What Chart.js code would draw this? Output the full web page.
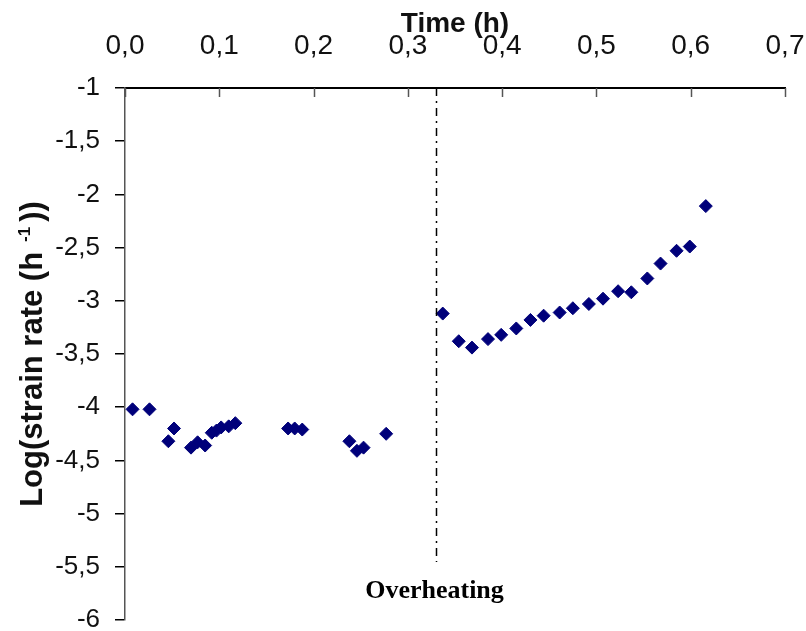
<!DOCTYPE html>
<html>
<head>
<meta charset="utf-8">
<title>Log strain rate vs time</title>
<script src="https://cdn.jsdelivr.net/npm/chart.js@4.4.1/dist/chart.umd.min.js"></script>
<style>
  html, body { margin: 0; padding: 0; background: #fff; }
  #wrap { width: 806px; height: 631px; position: relative; }
</style>
</head>
<body>
<div id="wrap"><canvas id="strainChart"></canvas></div>
<script>
// time (h) and log10 of the strain rate (1/h)
const times = [
  0.008, 0.026, 0.046, 0.052, 0.070, 0.077, 0.085, 0.092, 0.097, 0.102,
  0.110, 0.117, 0.173, 0.180, 0.188, 0.238, 0.246, 0.253, 0.277,
  0.337, 0.354, 0.368, 0.385, 0.399, 0.415, 0.430, 0.444, 0.461, 0.475,
  0.492, 0.507, 0.523, 0.537, 0.554, 0.568, 0.585, 0.599, 0.616
];
const logRates = [
  -4.02, -4.02, -4.32, -4.20, -4.38, -4.33, -4.36, -4.24, -4.22, -4.19,
  -4.18, -4.15, -4.20, -4.20, -4.21, -4.32, -4.41, -4.38, -4.25,
  -3.12, -3.38, -3.44, -3.36, -3.32, -3.26, -3.18, -3.14, -3.11, -3.07,
  -3.03, -2.98, -2.91, -2.92, -2.79, -2.65, -2.53, -2.49, -2.11
];
const overheatTime = 0.33;
const overheatLabel = "Overheating";

const sans = "'Liberation Sans', Arial, sans-serif";
const comma = (v) => v.toFixed(1).replace(".", ",");

// small tick marks pointing down from the top axis
const innerTicks = {
  id: "innerTicks",
  afterDraw(chart) {
    const { ctx, scales: { x }, chartArea } = chart;
    ctx.save();
    ctx.strokeStyle = "#555";
    ctx.lineWidth = 1.5;
    x.ticks.forEach((t) => {
      const px = Math.round(x.getPixelForValue(t.value)) + 0.5;
      ctx.beginPath();
      ctx.moveTo(px, chartArea.top);
      ctx.lineTo(px, chartArea.top + 9);
      ctx.stroke();
    });
    ctx.restore();
  }
};

// dash-dot marker line and its label
const overheatMarker = {
  id: "overheatMarker",
  afterDraw(chart) {
    const { ctx, scales: { x }, chartArea } = chart;
    const px = Math.round(x.getPixelForValue(overheatTime)) + 0.5;
    ctx.save();
    ctx.strokeStyle = "#000";
    ctx.lineWidth = 1.5;
    ctx.setLineDash([8, 5, 2, 5]);
    ctx.beginPath();
    ctx.moveTo(px, chartArea.top);
    ctx.lineTo(px, chartArea.bottom - 58);
    ctx.stroke();
    ctx.setLineDash([]);
    ctx.fillStyle = "#000";
    ctx.font = "bold 26px 'Liberation Serif', 'Times New Roman', serif";
    ctx.textAlign = "center";
    ctx.textBaseline = "alphabetic";
    ctx.fillText(overheatLabel, px - 2, chartArea.bottom - 22);
    ctx.restore();
  }
};

// rotated y title with a superscript exponent
const yTitle = {
  id: "yTitle",
  afterDraw(chart) {
    const { ctx, chartArea } = chart;
    const big = "bold 31px " + sans;
    const small = "bold 17px " + sans;
    const head = "Log(strain rate (h";
    const sup = "-1";
    const tail = "))";
    ctx.save();
    ctx.font = big;
    const wHead = ctx.measureText(head).width;
    const wTail = ctx.measureText(tail).width;
    ctx.font = small;
    const wSup = ctx.measureText(sup).width;
    const gap1 = 10, gap2 = 5;
    const total = wHead + gap1 + wSup + gap2 + wTail;
    ctx.translate(42, (chartArea.top + chartArea.bottom) / 2);
    ctx.rotate(-Math.PI / 2);
    ctx.fillStyle = "#111";
    ctx.textBaseline = "alphabetic";
    ctx.textAlign = "left";
    let cx = -total / 2;
    ctx.font = big;
    ctx.fillText(head, cx, 0);
    cx += wHead + gap1;
    ctx.font = small;
    ctx.fillText(sup, cx, -12);
    cx += wSup + gap2;
    ctx.font = big;
    ctx.fillText(tail, cx, 0);
    ctx.restore();
  }
};

new Chart(document.getElementById("strainChart"), {
  type: "scatter",
  data: {
    datasets: [{
      data: times.map((t, i) => ({ x: t, y: logRates[i] })),
      pointStyle: "rectRot",
      pointRadius: 6.5,
      pointHoverRadius: 6.5,
      backgroundColor: "#00007a",
      borderColor: "#00007a",
      borderWidth: 1
    }]
  },
  options: {
    responsive: true,
    maintainAspectRatio: false,
    animation: false,
    layout: { padding: 0 },
    plugins: { legend: { display: false }, tooltip: { enabled: false } },
    scales: {
      x: {
        type: "linear",
        position: "top",
        min: 0,
        max: 0.7,
        afterFit(scale) {
          scale.height = 88;
          scale.paddingLeft = 0;
          scale.paddingRight = 21;
        },
        border: { display: true, color: "#000", width: 2 },
        grid: { drawOnChartArea: false, drawTicks: false },
        ticks: {
          stepSize: 0.1,
          padding: 25,
          maxRotation: 0,
          autoSkip: false,
          color: "#111",
          font: { family: sans, size: 28 },
          callback: (v) => comma(v)
        },
        title: {
          display: true,
          text: "Time (h)",
          color: "#111",
          font: { family: sans, size: 28, weight: "bold" },
          padding: { top: 7, bottom: 0 }
        }
      },
      y: {
        type: "linear",
        min: -6,
        max: -1,
        afterFit(scale) {
          scale.width = 125;
          scale.paddingTop = 0;
          scale.paddingBottom = 11;
        },
        border: { display: true, color: "#555", width: 1.5 },
        grid: { drawOnChartArea: false, drawTicks: true, tickLength: 10, color: "#000", lineWidth: 1.5 },
        ticks: {
          stepSize: 0.5,
          padding: 15,
          color: "#111",
          font: { family: sans, size: 26 },
          callback: (v) => (Number.isInteger(v) ? String(v) : comma(v))
        }
      }
    }
  },
  plugins: [innerTicks, overheatMarker, yTitle]
});
</script>
</body>
</html>
